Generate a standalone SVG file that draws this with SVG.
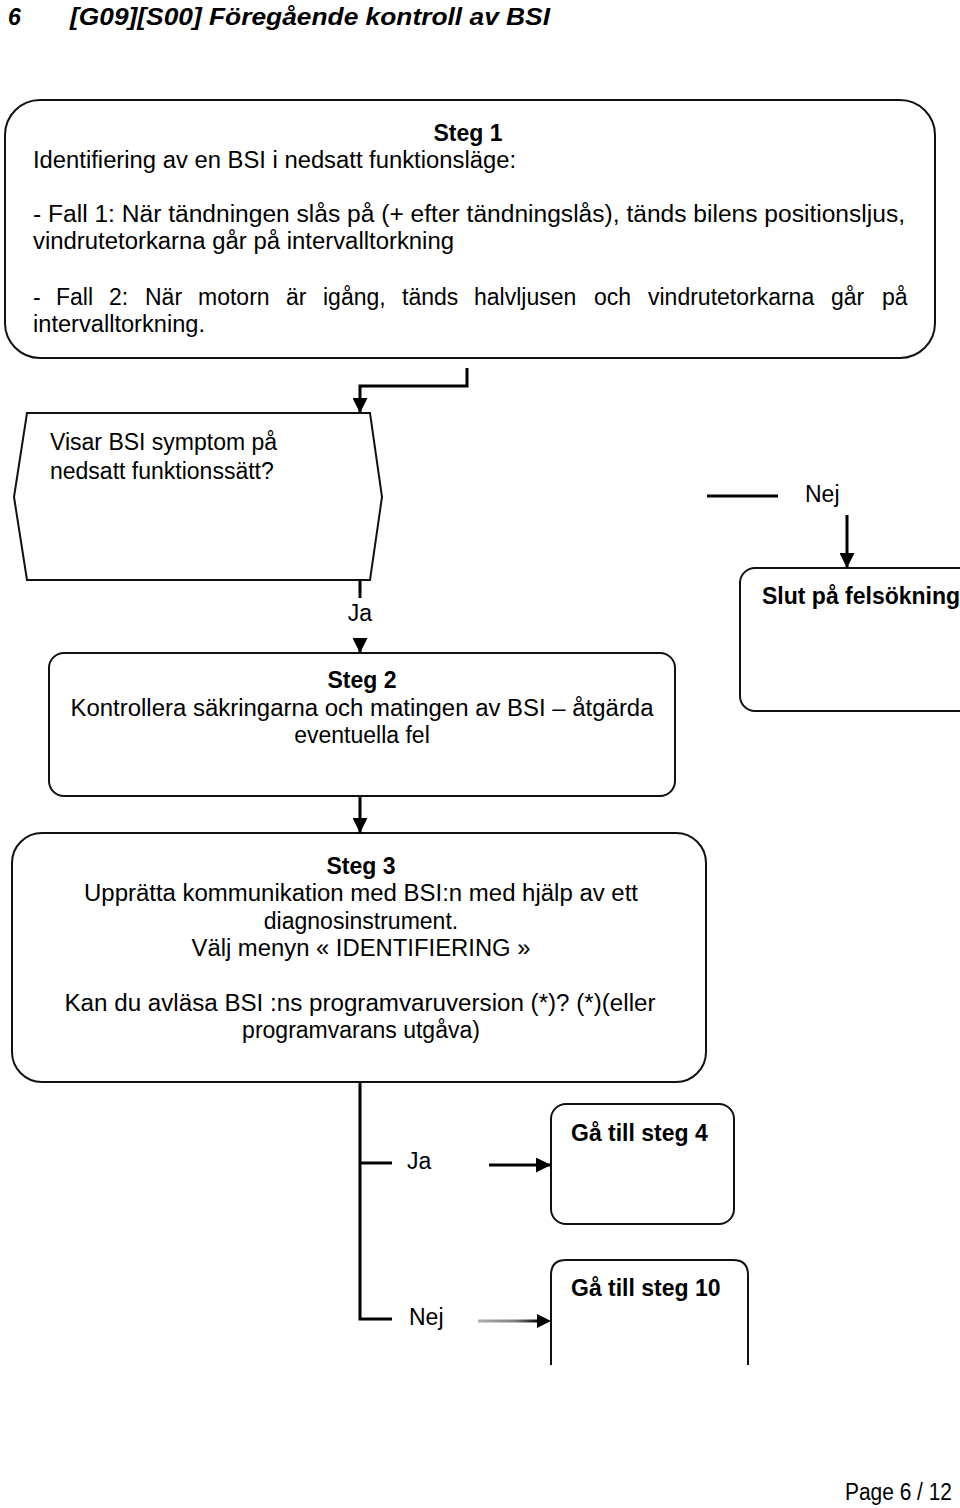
<svg xmlns="http://www.w3.org/2000/svg" width="960" height="1508" viewBox="0 0 960 1508">
<style>
text{font-family:"Liberation Sans",Arial,sans-serif;font-size:23px;fill:#000}
.b{font-weight:bold}
.c{text-anchor:middle}
.box{fill:#fff;stroke:#111;stroke-width:2}
.ln{fill:none;stroke:#000;stroke-width:3}
</style>
<defs>
<marker id="ah" viewBox="0 0 10 10" refX="10" refY="5" markerWidth="5" markerHeight="5" orient="auto" markerUnits="strokeWidth">
<path d="M0,0 L10,5 L0,10 z" fill="#000"/>
</marker>
<linearGradient id="gr" gradientUnits="userSpaceOnUse" x1="478" y1="0" x2="540" y2="0">
<stop offset="0" stop-color="#b0b0b0"/>
<stop offset="0.6" stop-color="#808080"/>
<stop offset="1" stop-color="#000"/>
</linearGradient>
</defs>
<g id="header">
<text x="8" y="25" class="b" font-style="italic" font-size="24">6</text>
<text x="70" y="25" class="b" font-style="italic" font-size="24" textLength="480" lengthAdjust="spacingAndGlyphs">[G09][S00] Föregående kontroll av BSI</text>
</g>
<g id="steg1">
<rect class="box" x="5" y="100" width="930" height="258" rx="35" ry="35"/>
<text x="468" y="141" class="b c">Steg 1</text>
<text x="33" y="168" textLength="483" lengthAdjust="spacingAndGlyphs">Identifiering av en BSI i nedsatt funktionsläge:</text>
<text x="33" y="222" textLength="872" lengthAdjust="spacingAndGlyphs">- Fall 1: När tändningen slås på (+ efter tändningslås), tänds bilens positionsljus,</text>
<text x="33" y="249" textLength="421" lengthAdjust="spacingAndGlyphs">vindrutetorkarna går på intervalltorkning</text>
<text y="305"><tspan x="33">-</tspan><tspan x="56">Fall</tspan><tspan x="109">2:</tspan><tspan x="145">När</tspan><tspan x="198">motorn</tspan><tspan x="286">är</tspan><tspan x="323">igång,</tspan><tspan x="402">tänds</tspan><tspan x="474">halvljusen</tspan><tspan x="594">och</tspan><tspan x="648">vindrutetorkarna</tspan><tspan x="831">går</tspan><tspan x="882">på</tspan></text>
<text x="33" y="332" textLength="172" lengthAdjust="spacingAndGlyphs">intervalltorkning.</text>
</g>
<g id="decision">
<polygon class="box" points="27,413 370,413 382,497 370,580 27,580 14,497"/>
<text x="50" y="450">Visar BSI symptom på</text>
<text x="50" y="479">nedsatt funktionssätt?</text>
</g>
<g id="slut">
<rect class="box" x="740" y="568" width="280" height="143" rx="15" ry="15"/>
<text x="762" y="604" class="b">Slut på felsökning</text>
</g>
<g id="steg2">
<rect class="box" x="49" y="653" width="626" height="143" rx="15" ry="15"/>
<text x="362" y="688" class="b c">Steg 2</text>
<text x="362" y="716" class="c" textLength="583" lengthAdjust="spacingAndGlyphs">Kontrollera säkringarna och matingen av BSI – åtgärda</text>
<text x="362" y="743" class="c">eventuella fel</text>
</g>
<g id="steg3">
<rect class="box" x="12" y="833" width="694" height="249" rx="30" ry="30"/>
<text x="361" y="874" class="b c">Steg 3</text>
<text x="361" y="901" class="c" textLength="554" lengthAdjust="spacingAndGlyphs">Upprätta kommunikation med BSI:n med hjälp av ett</text>
<text x="361" y="929" class="c">diagnosinstrument.</text>
<text x="361" y="956" class="c" textLength="339" lengthAdjust="spacingAndGlyphs">Välj menyn « IDENTIFIERING »</text>
<text x="360" y="1011" class="c" textLength="591" lengthAdjust="spacingAndGlyphs">Kan du avläsa BSI :ns programvaruversion (*)?  (*)(eller</text>
<text x="361" y="1038" class="c">programvarans utgåva)</text>
</g>
<g id="steg4">
<rect class="box" x="551" y="1104" width="183" height="120" rx="15" ry="15"/>
<text x="571" y="1141" class="b">Gå till steg 4</text>
</g>
<g id="steg10">
<path class="box" d="M551,1365 L551,1275 Q551,1260 566,1260 L733,1260 Q748,1260 748,1275 L748,1365"/>
<text x="571" y="1296" class="b">Gå till steg 10</text>
</g>
<g id="connectors">
<path class="ln" d="M467,368 L467,386 L360,386 L360,413" marker-end="url(#ah)"/>
<path class="ln" d="M360,581 L360,598"/>
<text x="360" y="621" class="c">Ja</text>
<path class="ln" d="M360,638 L360,653" marker-end="url(#ah)"/>
<path class="ln" d="M707,496 L778,496"/>
<text x="805" y="502">Nej</text>
<path class="ln" d="M847,515 L847,568" marker-end="url(#ah)"/>
<path class="ln" d="M360,796 L360,833" marker-end="url(#ah)"/>
<path class="ln" d="M360,1082 L360,1319 L392,1319"/>
<path class="ln" d="M360,1163 L392,1163"/>
<text x="407" y="1169">Ja</text>
<path class="ln" d="M489,1165 L551,1165" marker-end="url(#ah)"/>
<text x="409" y="1325">Nej</text>
<path d="M478,1321 L540,1321" fill="none" stroke="url(#gr)" stroke-width="3"/>
<path d="M537,1314 L551,1321 L537,1328 z" fill="#000"/>
</g>
<g id="footer">
<text x="845" y="1500" font-size="20" textLength="107" lengthAdjust="spacingAndGlyphs">Page 6 / 12</text>
</g>
</svg>
